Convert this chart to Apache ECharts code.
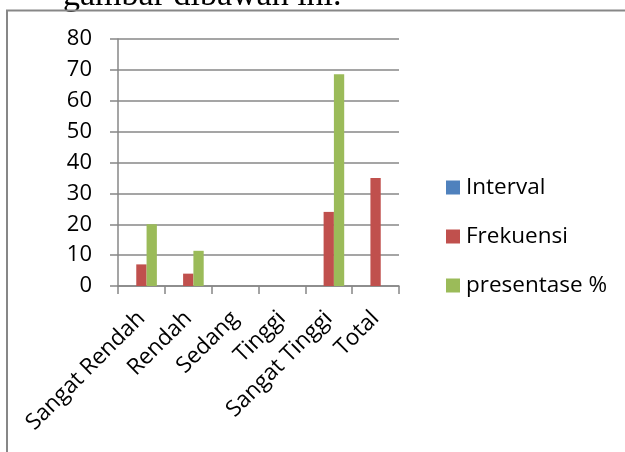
<!DOCTYPE html>
<html>
<head>
<meta charset="utf-8">
<script src="https://cdn.jsdelivr.net/npm/echarts@6/dist/echarts.min.js"></script>
<style>
html,body{margin:0;padding:0;background:#fff;}
#c{width:625px;height:452px;}
</style>
</head>
<body>
<div id="c"></div>
<script>
var categories = ['Sangat Rendah', 'Rendah', 'Sedang', 'Tinggi', 'Sangat Tinggi', 'Total'];
var intervalValues = [null, null, null, null, null, null];
var frekuensiValues = [7, 4, null, null, 24, 35];
var presentaseValues = [20, 11.4, null, null, 68.6, null];
var yTicks = [0, 10, 20, 30, 40, 50, 60, 70, 80];
var seriesNames = ['Interval', 'Frekuensi', 'presentase %'];
var headerText = 'gambar dibawah ini.';

var chart = echarts.init(document.getElementById('c'), null, {renderer: 'canvas'});
var font = 'Open Sans';
var gray = '#878787';
chart.setOption({
  animation: false,
  backgroundColor: '#ffffff',
  graphic: [
    {type: 'rect', shape: {x: 7, y: 10.5, width: 700, height: 500}, style: {fill: 'none', stroke: gray, lineWidth: 2}, silent: true, z: 10},
    {type: 'text', x: 63, y: -21, style: {text: headerText, font: '34px "Liberation Serif"', fill: '#000', verticalAlign: 'top'}, silent: true}
  ],
  legend: {
    orient: 'vertical',
    left: 441,
    top: 171,
    itemWidth: 14,
    itemHeight: 14,
    itemGap: 26,
    icon: 'rect',
    textStyle: {fontFamily: font, fontSize: 22.5, color: '#000', lineHeight: 22, padding: [0, 0, 0, 1]},
    data: seriesNames
  },
  grid: {left: 118, right: 226, top: 39, bottom: 166, containLabel: false},
  xAxis: {
    type: 'category',
    data: categories,
    axisLine: {lineStyle: {color: gray, width: 1.5}},
    axisTick: {show: true, length: 8, lineStyle: {color: gray, width: 1.5}, alignWithLabel: false},
    axisLabel: {rotate: 45, interval: 0, margin: 29, fontFamily: font, fontSize: 22.5, verticalAlign: 'middle', color: '#000'}
  },
  yAxis: {
    type: 'value',
    min: yTicks[0],
    max: yTicks[yTicks.length - 1],
    interval: yTicks[1] - yTicks[0],
    axisLine: {show: true, lineStyle: {color: gray, width: 1.5}},
    axisTick: {show: true, length: 8, lineStyle: {color: gray, width: 1.5}},
    axisLabel: {margin: 26, fontFamily: font, fontSize: 22, color: '#000'},
    splitLine: {show: true, lineStyle: {color: gray, width: 1.5}}
  },
  series: [
    {name: seriesNames[0], type: 'bar', data: intervalValues, itemStyle: {color: '#4F81BD'}, barGap: '0%', barCategoryGap: '34%'},
    {name: seriesNames[1], type: 'bar', data: frekuensiValues, itemStyle: {color: '#C0504D'}, barGap: '0%', barCategoryGap: '34%'},
    {name: seriesNames[2], type: 'bar', data: presentaseValues, itemStyle: {color: '#9BBB59'}, barGap: '0%', barCategoryGap: '34%'}
  ]
});
</script>
</body>
</html>
